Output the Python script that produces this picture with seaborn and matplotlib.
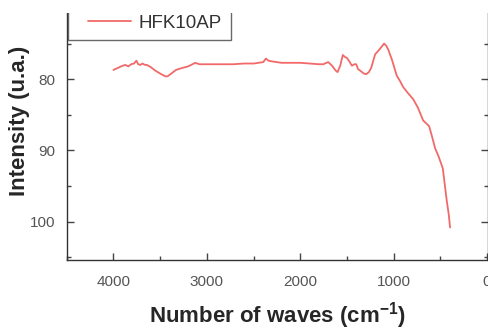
import matplotlib
matplotlib.use("Agg")
import matplotlib.pyplot as plt
from matplotlib.patches import Rectangle
from matplotlib.ticker import MultipleLocator
from matplotlib.legend_handler import HandlerLine2D
import seaborn as sns
import pandas as pd

# FTIR spectrum (wavenumber in cm-1, intensity in u.a.)
wavenumbers = [4000, 3950, 3900, 3872, 3840, 3810, 3780, 3754, 3735, 3711, 3690, 3660,
               3640, 3600, 3551, 3500, 3444, 3420, 3380, 3330, 3283, 3200, 3123, 3080,
               3000, 2900, 2800, 2717, 2600, 2500, 2396, 2367, 2340, 2303, 2200, 2100,
               2000, 1900, 1800, 1754, 1701, 1660, 1620, 1600, 1572, 1544, 1520, 1501,
               1470, 1447, 1420, 1401, 1380, 1358, 1320, 1294, 1265, 1240, 1198, 1150,
               1102, 1080, 1059, 1020, 967, 930, 898, 850, 791, 740, 684, 650,
               620, 590, 556, 520, 474, 460, 432, 410, 396]
intensity = [78.7, 78.4, 78.1, 78.0, 78.2, 77.9, 77.8, 77.4, 77.9, 78.0, 77.8, 78.0,
             78.0, 78.3, 78.8, 79.2, 79.6, 79.6, 79.2, 78.7, 78.5, 78.2, 77.7, 77.9,
             77.9, 77.9, 77.9, 77.9, 77.8, 77.8, 77.6, 77.1, 77.4, 77.5, 77.7, 77.7,
             77.7, 77.8, 77.9, 77.9, 77.6, 78.1, 78.8, 79.0, 78.1, 76.6, 76.9, 77.0,
             77.6, 78.1, 77.9, 77.9, 78.6, 78.8, 79.2, 79.3, 79.0, 78.4, 76.5, 75.8,
             75.0, 75.3, 75.8, 77.2, 79.5, 80.3, 81.1, 81.9, 82.8, 84.0, 85.8, 86.2,
             86.6, 88.0, 89.7, 90.8, 92.5, 94.0, 97.0, 99.0, 100.8]
series_name = "HFK10AP"

x_major = [4000, 3000, 2000, 1000, 0]
y_major = [70, 80, 90, 100]

df = pd.DataFrame({"wn": wavenumbers, "val": intensity})

sns.set_style("ticks")
plt.rcParams["font.family"] = ["Liberation Sans", "DejaVu Sans"]
plt.rcParams["mathtext.fontset"] = "custom"
plt.rcParams["mathtext.rm"] = "Liberation Sans"
plt.rcParams["mathtext.bf"] = "Liberation Sans:bold"

fig = plt.figure(figsize=(4.89, 3.31), dpi=100)
W, H = 489, 331
# axes placed in pixel terms; top runs above the picture (original was cropped)
left, right, bottom, top = 66.7, 488, 259.5, -17
ax = fig.add_axes([left / W, 1 - bottom / H, (right - left) / W, (bottom - top) / H])

sns.lineplot(data=df, x="wn", y="val", ax=ax, color="#ef4f4f", alpha=0.85,
             linewidth=1.3, label=series_name, estimator=None, sort=False)

ax.set_xlim(4500, -10)
ax.set_ylim(105.3, 66.5)
ax.set_xticks(x_major)
ax.set_yticks(y_major)
ax.xaxis.set_minor_locator(MultipleLocator(500))
ax.yaxis.set_minor_locator(MultipleLocator(5))
ax.tick_params(which="both", direction="in", top=True, right=True, colors="#444444",
               labelcolor="#555555", labelsize=11)
ax.tick_params(axis="x", which="major", length=5, width=1, pad=11)
ax.tick_params(axis="y", which="major", length=5, width=1, pad=8)
ax.tick_params(which="minor", length=3, width=1)
for s in ax.spines.values():
    s.set_color("#333333")
    s.set_linewidth(1.0)

ax.set_xlabel(r"Number of waves (cm$^{\mathbf{-1}}$)", fontsize=16, fontweight="bold",
              labelpad=8)
ax.set_ylabel("Intensity (u.a.)", fontsize=16, fontweight="bold", labelpad=0)

leg = ax.legend(loc="lower left", bbox_to_anchor=(68.5 / W, 1 - 40 / H),
                bbox_transform=fig.transFigure, fontsize=13.5, frameon=True,
                fancybox=False, handlelength=2.9, handletextpad=0.4,
                borderpad=0.45, borderaxespad=0,
                handler_map={plt.Line2D: HandlerLine2D(xpad=0.6)})
leg.get_frame().set_edgecolor("#444444")
leg.get_frame().set_linewidth(1.0)
for t in leg.get_texts():
    t.set_color("#333333")

# white band over the top rows, where the source image is blank
fig.add_artist(Rectangle((0, 1 - 13 / H), 1, 13 / H, transform=fig.transFigure,
                         facecolor="white", edgecolor="none", zorder=10))

fig.savefig("out.png", dpi=100)
